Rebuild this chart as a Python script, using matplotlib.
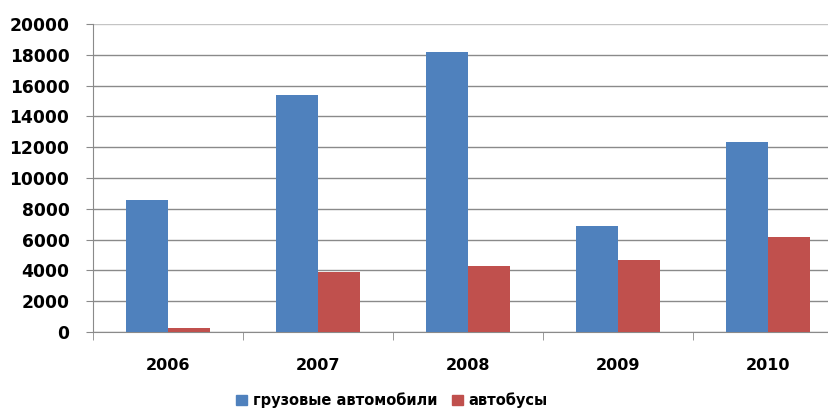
import matplotlib
matplotlib.use("Agg")
import matplotlib.pyplot as plt
import numpy as np
from matplotlib.patches import Patch

years = ["2006", "2007", "2008", "2009", "2010"]
trucks = [8600, 15400, 18150, 6900, 12350]
buses = [250, 3900, 4300, 4650, 6150]
series_names = ["грузовые автомобили", "автобусы"]
yticks = [0, 2000, 4000, 6000, 8000, 10000, 12000, 14000, 16000, 18000, 20000]

blue = "#4F81BD"
red = "#C0504D"
grid_c = "#8a8a8a"

fig = plt.figure(figsize=(8.29, 4.16), dpi=100)
W, H = 829, 416
left, right, top, bottom = 93, 843, 24, 332
ax = fig.add_axes([left / W, 1 - bottom / H, (right - left) / W, (bottom - top) / H])

x = np.arange(len(years))
bw = 0.28
ax.bar(x - bw / 2, trucks, bw, color=blue, zorder=3)
ax.bar(x + bw / 2, buses, bw, color=red, zorder=3)

ax.set_xlim(-0.5, len(years) - 0.5)
ax.set_ylim(0, 20000)
ax.set_yticks(yticks)
ax.set_yticklabels([str(v) for v in yticks], fontsize=12.3, fontweight="bold",
                   family=["DejaVu Sans"])
ax.yaxis.grid(True, color=grid_c, linewidth=1.0, zorder=0)
ax.tick_params(axis="y", length=5, color=grid_c, pad=12)
gl = ax.yaxis.get_gridlines()
gl[-1].set_color("#c4c4c4")

ax.set_xticks(x)
ax.set_xticklabels(years, fontsize=11.5, fontweight="bold", family=["DejaVu Sans"])
ax.tick_params(axis="x", length=0, pad=19)
ax.set_xticks(np.arange(len(years)) - 0.5, minor=True)
ax.tick_params(axis="x", which="minor", length=6, color=grid_c)

for s in ["top", "right"]:
    ax.spines[s].set_visible(False)
ax.spines["left"].set_color(grid_c)
ax.spines["bottom"].set_color(grid_c)

handles = [Patch(color=blue, label=series_names[0]), Patch(color=red, label=series_names[1])]
fig.legend(handles=handles, loc="center", bbox_to_anchor=(392 / W, 1 - 400 / H),
           ncol=2, frameon=False, prop={"weight": "bold", "size": 10.5},
           handlelength=0.7, handleheight=0.7, handletextpad=0.4, columnspacing=1.05)

fig.savefig("out.png", dpi=100)
